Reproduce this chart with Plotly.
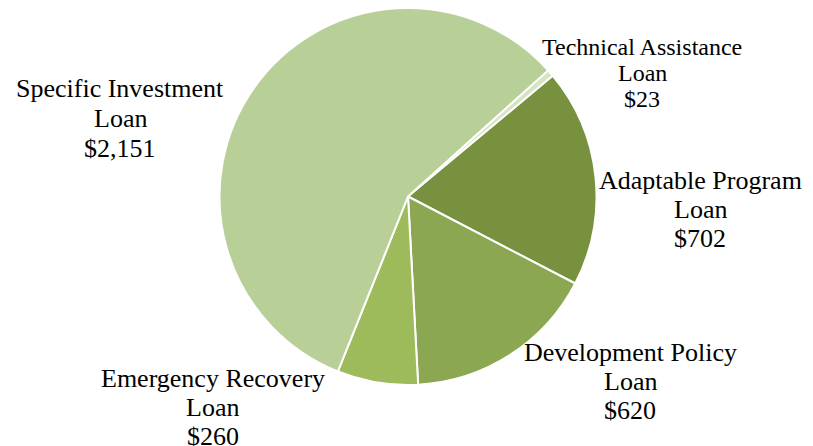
import plotly.graph_objects as go

labels = ["Technical Assistance Loan", "Adaptable Program Loan", "Development Policy Loan",
          "Emergency Recovery Loan", "Specific Investment Loan"]
values = [23, 702, 620, 260, 2151]
label_lines = [["Technical Assistance", "Loan", "$23"],
               ["Adaptable Program", "Loan", "$702"],
               ["Development Policy", "Loan", "$620"],
               ["Emergency Recovery", "Loan", "$260"],
               ["Specific Investment", "Loan", "$2,151"]]
colors = ["#D7E4C4", "#77913F", "#8CA752", "#9DBB5A", "#B9CF98"]

# the page body has an 8px margin, so the figure is 8px smaller than the window
OFF = 8
W, H = 813 - OFF, 446 - OFF
cx, cy, r = 408 - OFF, 196.5 - OFF, 188.5

fig = go.Figure(go.Pie(
    labels=labels, values=values, sort=False, direction="clockwise", rotation=48,
    marker=dict(colors=colors, line=dict(color="white", width=2)),
    textinfo="none", hoverinfo="skip", showlegend=False,
    domain=dict(x=[(cx - r) / W, (cx + r) / W], y=[max(0, 1 - (cy + r) / H), min(1, 1 - (cy - r) / H)]),
))

# label centre (x, middle line y) in window pixels, font size, line spacing
label_pos = [(642, 73, 24, 26), (700, 209, 26, 29), (630, 381, 26, 29),
             (213, 407, 26, 29), (120, 118, 26, 30)]
for lines, (x, y, s, dy) in zip(label_lines, label_pos):
    for i, line in enumerate(lines):
        fig.add_annotation(x=(x - OFF) / W, y=1 - (y - OFF + (i - 1) * dy) / H,
                           xref="paper", yref="paper",
                           text=line, showarrow=False, xanchor="center", yanchor="middle",
                           font=dict(family="Liberation Serif", size=s, color="black"))

fig.update_layout(width=W, height=H, margin=dict(l=0, r=0, t=0, b=0),
                  paper_bgcolor="white", plot_bgcolor="white")
fig.write_html("out.html")
